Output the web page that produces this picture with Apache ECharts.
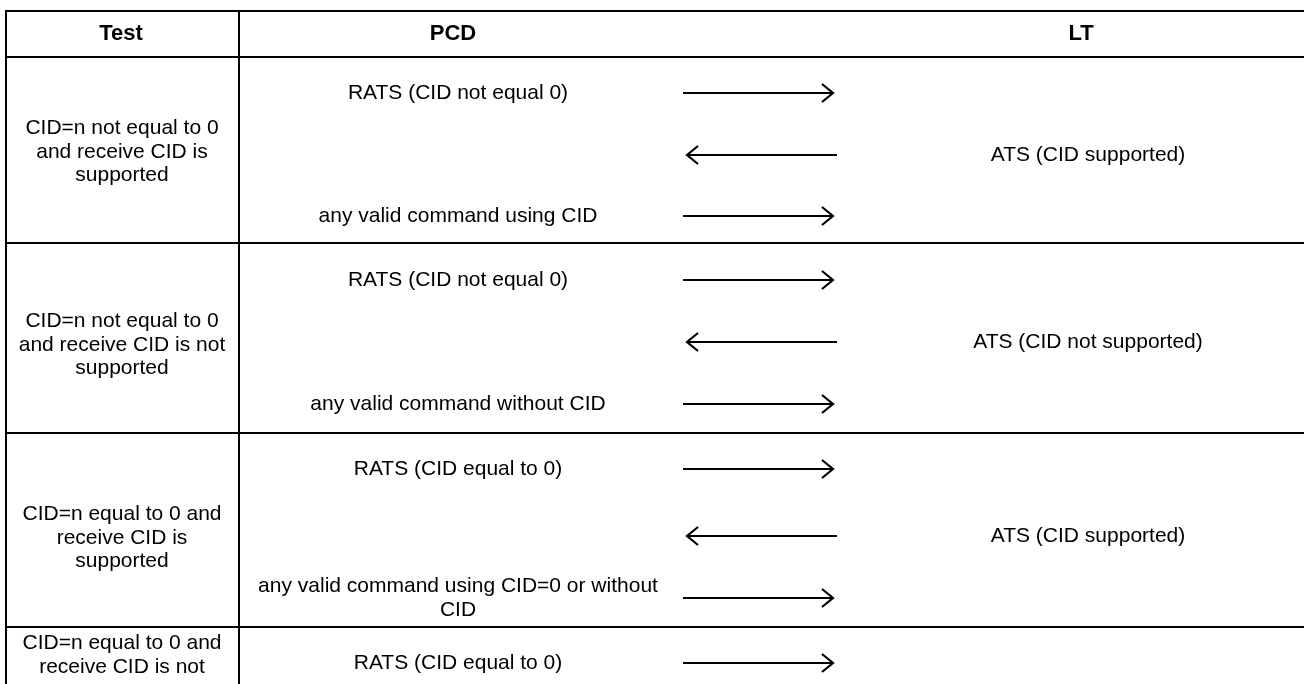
<!DOCTYPE html>
<html><head><meta charset="utf-8">
<script src="https://cdn.jsdelivr.net/npm/echarts@6/dist/echarts.min.js"></script>
<style>html,body{margin:0;padding:0;background:#fff}#c{width:1304px;height:684px}</style>
</head><body><div id="c"></div>
<script>
// ---- data ----
const headers = ['Test', 'PCD', 'LT'];
const testLabels = [
  'CID=n not equal to 0\nand receive CID is\nsupported',
  'CID=n not equal to 0\nand receive CID is not\nsupported',
  'CID=n equal to 0 and\nreceive CID is\nsupported',
  'CID=n equal to 0 and\nreceive CID is not\nsupported'
];
const pcdMessages = [
  ['RATS (CID not equal 0)', '', 'any valid command using CID'],
  ['RATS (CID not equal 0)', '', 'any valid command without CID'],
  ['RATS (CID equal to 0)', '', 'any valid command using CID=0 or without\nCID'],
  ['RATS (CID equal to 0)']
];
const ltMessages = [
  ['', 'ATS (CID supported)', ''],
  ['', 'ATS (CID not supported)', ''],
  ['', 'ATS (CID supported)', ''],
  ['']
];
const directions = [
  ['PCD>LT', 'LT>PCD', 'PCD>LT'],
  ['PCD>LT', 'LT>PCD', 'PCD>LT'],
  ['PCD>LT', 'LT>PCD', 'PCD>LT'],
  ['PCD>LT']
];

// ---- layout (table geometry, in page units) ----
const L = {
  left: 6, divider: 239, right: 1320,
  top: 11, headerBottom: 57,
  rowBottoms: [243, 433, 627, 760],
  pageBottom: 679,
  headerX: [121, 453, 1081],
  testX: 122, pcdX: 458, ltX: 1088,
  testOffsets: [95, 102, 105, 40],
  arrowStart: 683, arrowEnd: 833, arrowShift: 4,
  headLen: 11, headHalf: 9,
  msgOffsets: [[36, 98, 159], [37, 99, 161], [36, 103, 165], [36]],
  font: 'Liberation Sans, Arial, sans-serif', fontSize: 21, headerSize: 22, lineHeight: 23.5
};

function rowTop(r) { return r === 0 ? L.headerBottom : L.rowBottoms[r - 1]; }

const ruleData = [];
ruleData.push(['h', L.top]);
ruleData.push(['h', L.headerBottom]);
L.rowBottoms.forEach(y => ruleData.push(['h', y]));
ruleData.push(['v', L.left]);
ruleData.push(['v', L.divider]);

const headerData = headers.map((h, i) => [i]);
const testData = testLabels.map((t, r) => [r]);
const msgData = [];
pcdMessages.forEach((row, r) => row.forEach((m, k) => msgData.push([r, k])));

const chart = echarts.init(document.getElementById('c'), null, {renderer: 'canvas'});
const txtStyle = (text, bold) => ({
  text, fill: '#000', fontFamily: L.font, fontSize: bold ? L.headerSize : L.fontSize,
  fontWeight: bold ? 'bold' : 'normal', align: 'center', verticalAlign: 'middle',
  lineHeight: L.lineHeight
});

chart.setOption({
  animation: false,
  backgroundColor: '#fff',
  grid: {left: 0, right: 0, top: 0, bottom: 0},
  xAxis: {type: 'value', min: 0, max: 1304, show: false},
  yAxis: {type: 'value', min: 0, max: 684, inverse: true, show: false},
  series: [
    {
      type: 'custom', data: ruleData, silent: true, clip: false,
      renderItem(params, api) {
        const d = ruleData[params.dataIndex];
        let p1, p2;
        if (d[0] === 'h') { p1 = api.coord([L.left - 1, d[1]]); p2 = api.coord([L.right, d[1]]); }
        else { p1 = api.coord([d[1], L.top - 1]); p2 = api.coord([d[1], 760]); }
        return {type: 'line', shape: {x1: p1[0], y1: p1[1], x2: p2[0], y2: p2[1]},
          style: {stroke: '#000', lineWidth: 2}};
      }
    },
    {
      type: 'custom', data: headerData, silent: true,
      renderItem(params, api) {
        const i = params.dataIndex;
        const p = api.coord([L.headerX[i], (L.top + L.headerBottom) / 2]);
        return {type: 'text', x: p[0], y: p[1], style: txtStyle(headers[i], true)};
      }
    },
    {
      type: 'custom', data: testData, silent: true,
      renderItem(params, api) {
        const r = params.dataIndex;
        const p = api.coord([L.testX, rowTop(r) + L.testOffsets[r]]);
        const c0 = api.coord([L.left, rowTop(r)]);
        const c1 = api.coord([L.divider, Math.min(L.rowBottoms[r], L.pageBottom)]);
        return {type: 'group', children: [{type: 'text', x: p[0], y: p[1], style: txtStyle(testLabels[r], false)}],
          clipPath: {type: 'rect', shape: {x: c0[0], y: c0[1], width: c1[0] - c0[0], height: c1[1] - c0[1]}}};
      }
    },
    {
      type: 'custom', data: msgData, silent: true,
      renderItem(params, api) {
        const [r, k] = msgData[params.dataIndex];
        const y = rowTop(r) + L.msgOffsets[r][k];
        const children = [];
        const pm = pcdMessages[r][k];
        if (pm) {
          const p = api.coord([L.pcdX, y]);
          children.push({type: 'text', x: p[0], y: p[1], style: txtStyle(pm, false)});
        }
        const lm = ltMessages[r][k];
        if (lm) {
          const p = api.coord([L.ltX, y]);
          children.push({type: 'text', x: p[0], y: p[1], style: txtStyle(lm, false)});
        }
        const toLT = directions[r][k] === 'PCD>LT';
        const s = toLT ? 0 : L.arrowShift;
        const a = api.coord([L.arrowStart + s, y]);
        const b = api.coord([L.arrowEnd + s, y]);
        children.push({type: 'line', shape: {x1: a[0], y1: a[1], x2: b[0], y2: b[1]},
          style: {stroke: '#000', lineWidth: 1.8}});
        const tip = toLT ? b : a;
        const back = toLT ? -L.headLen : L.headLen;
        children.push({type: 'polyline', shape: {points: [
          [tip[0] + back, tip[1] - L.headHalf], [tip[0], tip[1]], [tip[0] + back, tip[1] + L.headHalf]]},
          style: {stroke: '#000', lineWidth: 2.2, fill: null}});
        return {type: 'group', children};
      }
    }
  ]
});
</script></body></html>
